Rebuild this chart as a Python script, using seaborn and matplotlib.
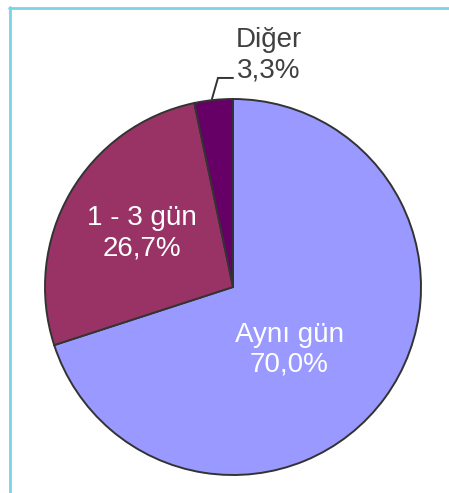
import matplotlib
matplotlib.use("Agg")
import matplotlib.pyplot as plt
from matplotlib.lines import Line2D
import seaborn as sns

# Data: share of responses by time span
categories = ["Aynı gün", "1 - 3 gün", "Diğer"]
shares = [70.0, 26.7, 3.3]
colors = ["#9999FF", "#993366", "#660066"]

sns.set_theme(style="white")
plt.rcParams["font.family"] = ["Liberation Sans", "DejaVu Sans"]

fig = plt.figure(figsize=(4.49, 4.93), dpi=100)
ax = fig.add_axes([0, 0, 1, 1])

wedges, _ = ax.pie(
    shares,
    colors=colors,
    startangle=90,
    counterclock=False,
    radius=1.0,
    wedgeprops=dict(edgecolor="#333333", linewidth=1.4),
)

ax.set_xlim(-1.2394, 1.1489)
ax.set_ylim(-1.0957, 1.5266)
ax.set_aspect("equal")
ax.axis("off")


def fmt(v):
    return f"{v:.1f}".replace(".", ",") + "%"


fs = 20
ls = 1.2
ax.text(0.30, -0.335, f"{categories[0]}\n{fmt(shares[0])}", color="white",
        fontsize=fs, ha="center", va="center", multialignment="center",
        linespacing=ls)
ax.text(-0.487, 0.287, f"{categories[1]}\n{fmt(shares[1])}", color="white",
        fontsize=fs, ha="center", va="center", multialignment="center",
        linespacing=ls)
ax.text(0.191, 1.234, f"{categories[2]}\n{fmt(shares[2])}", color="#404040",
        fontsize=fs, ha="center", va="center", multialignment="center",
        linespacing=ls)

# Leader line for the small slice
ax.plot([-0.112, -0.080, 0.0], [1.0, 1.112, 1.112], color="#333333",
        linewidth=1.4, solid_joinstyle="miter")

# Light frame on top and left
W, H = 449, 493
fig.add_artist(Line2D([10 / W, 10 / W], [0, 1 - 7 / H], transform=fig.transFigure,
                      color="#7DD3E5", linewidth=2.0))
fig.add_artist(Line2D([9 / W, 1], [1 - 8 / H, 1 - 8 / H], transform=fig.transFigure,
                      color="#7DD3E5", linewidth=2.0))

fig.savefig("out.png", dpi=100, facecolor="white")
